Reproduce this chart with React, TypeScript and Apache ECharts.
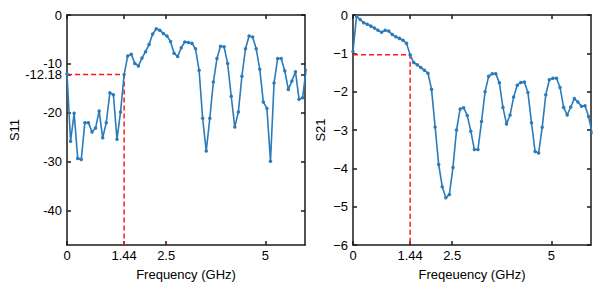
import React, { useEffect, useRef } from "react";
import * as echarts from "echarts";

const freqStep = 0.09;
const freq: number[] = Array.from({ length: 68 }, (_, i) => +(i * freqStep).toFixed(2));

const s11: number[] = [
  -12, -25.8, -20.1, -29.3, -29.5, -22.0, -22.0, -23.9, -23.1, -19.6,
  -25.1, -22.0, -15.9, -16.3, -25.4, -19.8, -12.18, -8.4, -8.0, -9.9,
  -10.4, -8.8, -7.5, -6.0, -3.9, -2.8, -3.1, -3.8, -4.3, -5.4,
  -7.8, -8.5, -6.7, -5.5, -5.6, -5.8, -6.9, -11.3, -21.1, -27.8,
  -21.1, -13.7, -8.9, -6.4, -6.5, -9.9, -16.6, -22.9, -19.8, -12.5,
  -6.9, -4.3, -4.5, -6.9, -11.1, -17.8, -19.1, -29.9, -13.9, -8.9,
  -8.9, -11.4, -15.2, -13.5, -11.6, -17.2, -16.9, -11.0,
];

const s21: number[] = [
  -0.95, -0.03, -0.12, -0.2, -0.24, -0.29, -0.34, -0.4, -0.45, -0.4,
  -0.42, -0.51, -0.57, -0.61, -0.66, -0.74, -1.04, -1.24, -1.3, -1.37,
  -1.44, -1.52, -1.94, -2.92, -3.9, -4.48, -4.77, -4.68, -3.98, -3.0,
  -2.45, -2.42, -2.62, -3.03, -3.51, -3.51, -2.78, -2.0, -1.6, -1.53,
  -1.53, -1.77, -2.41, -2.84, -2.61, -2.14, -1.83, -1.76, -1.75, -2.02,
  -2.81, -3.56, -3.6, -2.93, -2.08, -1.69, -1.65, -1.65, -1.89, -2.41,
  -2.61, -2.4, -2.18, -2.27, -2.38, -2.37, -2.65, -3.1,
];

const xTicks = [0, 1.44, 2.5, 5];
const s11Ticks = [0, -10, -12.18, -20, -30, -40];
const s21Ticks = [0, -1, -2, -3, -4, -5, -6];
const markFreq = 1.44;
const s11Mark = -12.18;
const s21Mark = -1.04;

const FONT = "'Liberation Sans', Arial, sans-serif";
const BLUE = "#2b7bba";
const RED = "#ff1a1a";
const AX = "#1a1a1a";

export default function App() {
  const ref = useRef<HTMLDivElement>(null);
  useEffect(() => {
    const chart = echarts.init(ref.current!, null, { renderer: "svg" });
    const axisLine = { show: true, onZero: false, lineStyle: { color: AX, width: 1.5 } };
    const tick = (vals: number[]) => ({
      show: true,
      inside: true,
      length: 4,
      customValues: vals,
      lineStyle: { color: AX, width: 1.5 },
    });
    const label = { color: "#000", fontFamily: FONT, fontSize: 13 };
    const xAxisPair = (gi: number, name: string) => [
      {
        type: "value",
        gridIndex: gi,
        min: 0,
        max: 6,
        position: "bottom",
        name,
        nameLocation: "middle",
        nameGap: 23,
        nameTextStyle: { ...label },
        axisLine,
        axisTick: tick(xTicks),
        axisLabel: {
          ...label,
          customValues: xTicks,
          margin: 4,
          formatter: (v: number) => String(v),
        },
        splitLine: { show: false },
      },
      {
        type: "value",
        gridIndex: gi,
        min: 0,
        max: 6,
        position: "top",
        axisLine,
        axisTick: tick(xTicks),
        axisLabel: { show: false },
        splitLine: { show: false },
      },
    ];
    const yAxisPair = (
      gi: number,
      min: number,
      ticks: number[],
      name: string,
      gap: number,
      fmt: (v: number) => string
    ) => [
      {
        type: "value",
        gridIndex: gi,
        min,
        max: 0,
        position: "left",
        name,
        nameLocation: "middle",
        nameGap: gap,
        nameTextStyle: { ...label },
        axisLine,
        axisTick: tick(ticks),
        axisLabel: { ...label, lineHeight: 10, customValues: ticks, margin: 5, formatter: fmt },
        splitLine: { show: false },
      },
      {
        type: "value",
        gridIndex: gi,
        min,
        max: 0,
        position: "right",
        axisLine,
        axisTick: tick(ticks),
        axisLabel: { show: false },
        splitLine: { show: false },
      },
    ];
    const lineSeries = (xi: number, yi: number, vals: number[]) => ({
      type: "line",
      xAxisIndex: xi,
      yAxisIndex: yi,
      data: freq.map((f, i) => [f, vals[i]]),
      symbol: "circle",
      symbolSize: 3.5,
      showSymbol: true,
      clip: true,
      lineStyle: { color: BLUE, width: 1.6 },
      itemStyle: { color: BLUE },
      z: 3,
    });
    const markSeries = (xi: number, yi: number, yv: number, ymin: number) => ({
      type: "line",
      xAxisIndex: xi,
      yAxisIndex: yi,
      data: [
        [0, yv],
        [markFreq, yv],
        [markFreq, ymin],
      ],
      symbol: "none",
      lineStyle: { color: RED, width: 1.5, type: [5, 3] },
      z: 2,
    });
    chart.setOption({
      animation: false,
      grid: [
        { left: 67, top: 15, width: 238, height: 230 },
        { left: 353, top: 15, width: 238, height: 230 },
      ],
      xAxis: [...xAxisPair(0, "Frequency (GHz)"), ...xAxisPair(1, "Freqeuency (GHz)")],
      yAxis: [
        ...yAxisPair(0, -47, s11Ticks, "S11", 42, (v: number) => String(v)),
        ...yAxisPair(1, -6, s21Ticks, "S21", 26, (v: number) =>
          v < 0 ? "\u2212" + String(-v) : String(v)
        ),
      ],
      series: [
        markSeries(0, 0, s11Mark, -47),
        lineSeries(0, 0, s11),
        markSeries(2, 2, s21Mark, -6),
        lineSeries(2, 2, s21),
      ],
    });
    return () => chart.dispose();
  }, []);
  return (
    <div
      ref={ref}
      style={{ position: "absolute", left: 0, top: 0, width: 601, height: 289, background: "#fff" }}
    />
  );
}
